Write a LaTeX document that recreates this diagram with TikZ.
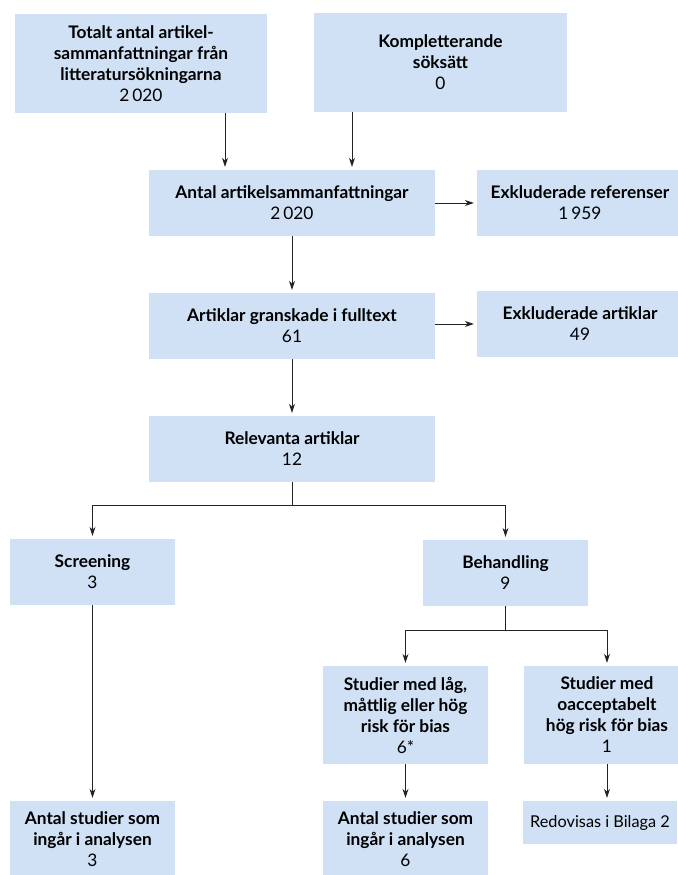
\documentclass[tikz,border=0pt]{standalone}
\usepackage{fontspec}
\setmainfont{Lato}
\usetikzlibrary{arrows.meta}
\definecolor{boxblue}{RGB}{208,225,245}
\definecolor{linegray}{RGB}{35,35,35}

\begin{document}
\begin{tikzpicture}[x=1pt, y=-1pt,
        box/.style={fill=boxblue, draw=none, align=center, inner sep=2pt,
            font=\fontsize{17.3}{21}\selectfont},
        arr/.style={draw=linegray, line width=0.9pt,
            -{Stealth[length=9pt,width=6pt]}, shorten >=3pt}]
    \useasboundingbox (0,0) rectangle (677,875);
    \fill[white] (0,0) rectangle (677,875);

    \node[box, minimum width=252pt, minimum height=99pt] (total) at (141,63.5)
        {\textbf{Totalt antal artikel-}\\\textbf{sammanfattningar från}\\\textbf{litteratursökningarna}\\2\,020};
    \node[box, minimum width=253pt, minimum height=99pt] (kompl) at (440.5,62.5)
        {\textbf{Kompletterande}\\\textbf{söksätt}\\0};
    \node[box, minimum width=286pt, minimum height=66pt] (antal) at (292,203)
        {\textbf{Antal artikelsammanfattningar}\\2\,020};
    \node[box, minimum width=206pt, minimum height=66pt] (exref) at (580,203)
        {\textbf{Exkluderade referenser}\\1\,959};
    \node[box, minimum width=286pt, minimum height=66pt] (fulltext) at (292,326)
        {\textbf{Artiklar granskade i fulltext}\\61};
    \node[box, minimum width=206pt, minimum height=66pt] (exart) at (580,324)
        {\textbf{Exkluderade artiklar}\\49};
    \node[box, minimum width=286pt, minimum height=66pt] (relevanta) at (292,449)
        {\textbf{Relevanta artiklar}\\12};
    \node[box, minimum width=165pt, minimum height=66pt] (screening) at (92.5,572)
        {\textbf{Screening}\\3};
    \node[box, minimum width=165pt, minimum height=66pt] (behandling) at (505.5,573)
        {\textbf{Behandling}\\9};
    \node[box, minimum width=165pt, minimum height=98pt] (lagrisk) at (405.5,715)
        {\textbf{Studier med låg,}\\\textbf{måttlig eller hög}\\\textbf{risk för bias}\\6*};
    \node[box, minimum width=166pt, minimum height=98pt] (hogrisk) at (607,715)
        {\textbf{Studier med}\\\textbf{oacceptabelt}\\\textbf{hög risk för bias}\\1};
    \node[box, minimum width=165pt, minimum height=76pt] (analysA) at (92.5,839)
        {\textbf{Antal studier som}\\\textbf{ingår i analysen}\\3};
    \node[box, minimum width=165pt, minimum height=76pt] (analysB) at (405.5,839)
        {\textbf{Antal studier som}\\\textbf{ingår i analysen}\\6};
    \node[box, minimum width=154pt, minimum height=43pt, font=\fontsize{16.3}{21}\selectfont] (bilaga) at (600,822.5)
        {Redovisas i Bilaga 2};

    \draw[arr] ([xshift=84pt]total.south) -- ([xshift=84pt]total.south |- antal.north);
    \draw[arr] ([xshift=-88.5pt]kompl.south) -- ([xshift=-88.5pt]kompl.south |- antal.north);
    \draw[arr] (antal.east) -- (exref.west);
    \draw[arr] (antal.south) -- (fulltext.north);
    \draw[arr] (fulltext.east |- exart.west) -- (exart.west);
    \draw[arr] (fulltext.south) -- (relevanta.north);
    \draw[arr] (relevanta.south) -- ++(0,23) -| (screening.north);
    \draw[arr] (relevanta.south) -- ++(0,23) -| (behandling.north);
    \draw[arr] (behandling.south) -- ++(0,24) -| (lagrisk.north);
    \draw[arr] (behandling.south) -- ++(0,24) -| (hogrisk.north);
    \draw[arr] (screening.south) -- (analysA.north);
    \draw[arr] (lagrisk.south) -- (analysB.north);
    \draw[arr] (hogrisk.south) -- (bilaga.north -| hogrisk.south);
\end{tikzpicture}
\end{document}
